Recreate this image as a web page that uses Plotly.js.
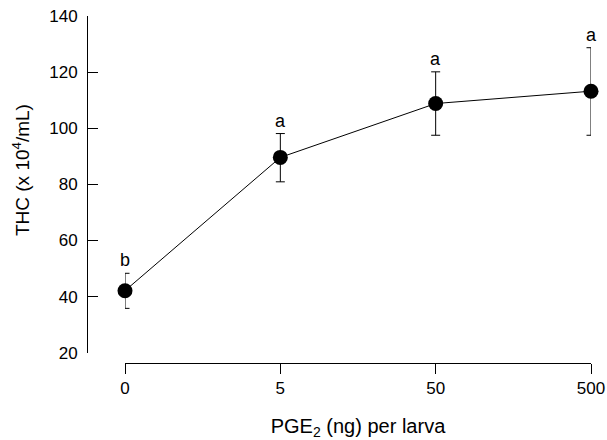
<!DOCTYPE html>
<html>
<head>
<meta charset="utf-8">
<script src="https://cdn.plot.ly/plotly-3.0.1.min.js"></script>
<style>
  html, body { margin: 0; padding: 0; background: #fff; }
  #chart { width: 607px; height: 440px; }
</style>
</head>
<body>
<div id="chart"></div>
<script>
// Data
const doses = ['0', '5', '50', '500'];          // PGE2 (ng) per larva
const thc = [42.1, 89.6, 108.8, 113.2];         // THC (x 10^4/mL)
const errPlus = [6.2, 8.5, 11.3, 15.5];
const errMinus = [6.3, 8.7, 11.3, 15.7];
const letters = ['b', 'a', 'a', 'a'];
const yTicks = [20, 40, 60, 80, 100, 120, 140];

const FONT = 'Arial, "Liberation Sans", sans-serif';

const trace = {
  x: doses,
  y: thc,
  type: 'scatter',
  mode: 'lines+markers',
  line: { color: '#000', width: 1 },
  marker: { color: '#000', size: 15 },
  error_y: {
    type: 'data',
    symmetric: false,
    array: errPlus,
    arrayminus: errMinus,
    color: '#000',
    thickness: 1,
    width: 4.5
  },
  cliponaxis: false,
  hoverinfo: 'x+y'
};

// letters placed by category index on the category axis
const annotations = doses.map((d, i) => ({
  x: i,
  y: thc[i] + errPlus[i],
  xref: 'x',
  yref: 'y',
  text: letters[i],
  showarrow: false,
  yanchor: 'bottom',
  yshift: 1,
  font: { family: FONT, size: 18, color: '#000' }
}));

annotations.push({
  xref: 'paper', yref: 'paper',
  x: -0.131, y: 0.556,
  xanchor: 'center', yanchor: 'middle',
  textangle: -90,
  showarrow: false,
  text: 'THC (x 10<sup>4</sup>/mL)',
  font: { family: FONT, size: 19, color: '#000' }
});

const layout = {
  width: 607,
  height: 440,
  margin: { l: 87, r: 16, t: 16, b: 77 },
  paper_bgcolor: '#fff',
  plot_bgcolor: '#fff',
  showlegend: false,
  font: { family: FONT, color: '#000', size: 17 },
  xaxis: {
    type: 'category',
    range: [0, 3],
    domain: [0.0754, 1],
    anchor: 'free',
    position: 0,
    showline: true,
    linecolor: '#000',
    linewidth: 1,
    ticks: 'outside',
    ticklen: 10,
    tickwidth: 1,
    tickcolor: '#000',
    showgrid: false,
    zeroline: false,
    tickfont: { family: FONT, size: 17, color: '#000' },
    title: { text: 'PGE<sub>2</sub> (ng) per larva', font: { family: FONT, size: 20, color: '#000' }, standoff: 24 }
  },
  yaxis: {
    range: [20, 140],
    domain: [0.0297, 1],
    anchor: 'free',
    position: 0,
    tickvals: yTicks,
    showline: true,
    linecolor: '#000',
    linewidth: 1,
    ticks: 'inside',
    ticklen: 10,
    tickwidth: 1,
    tickcolor: '#000',
    ticklabelstandoff: 6,
    showgrid: false,
    zeroline: false,
    tickfont: { family: FONT, size: 17, color: '#000' }
  },
  annotations: annotations
};

Plotly.newPlot('chart', [trace], layout, { displayModeBar: false, staticPlot: true });
</script>
</body>
</html>
